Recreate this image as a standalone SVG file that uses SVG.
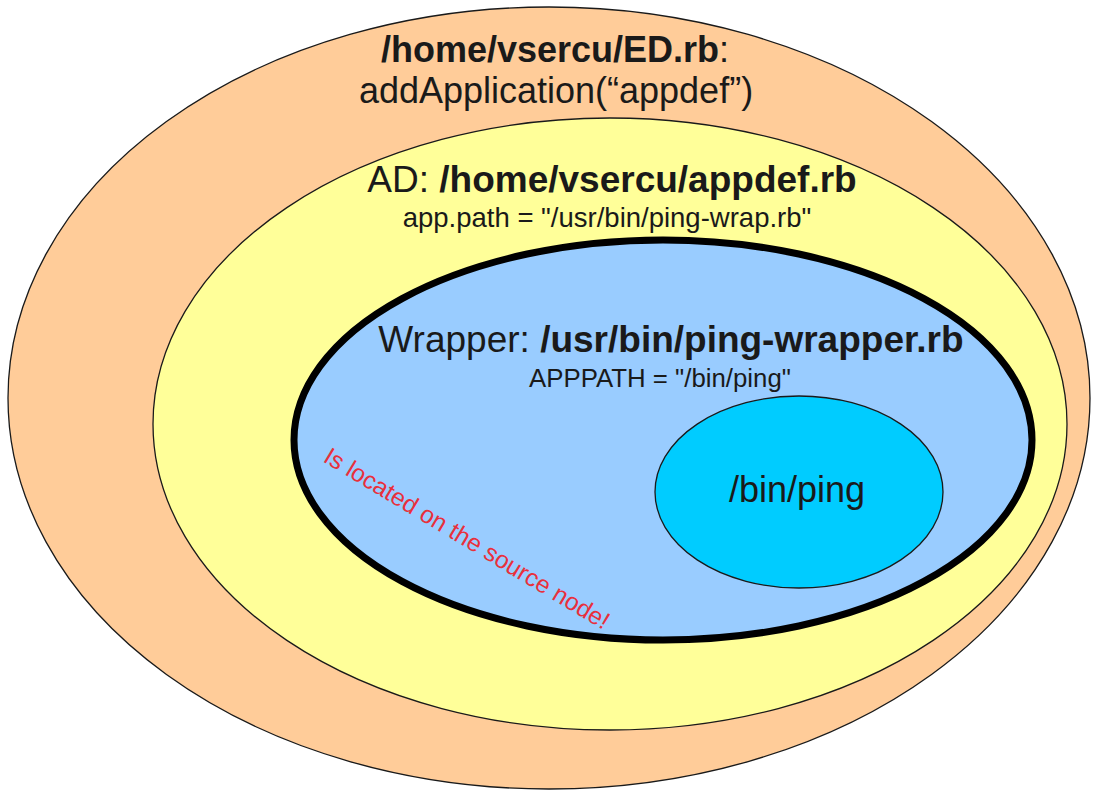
<svg xmlns="http://www.w3.org/2000/svg" width="1093" height="791" viewBox="0 0 1093 791">
  <style>
    .lbl { font-family: "Liberation Sans", Arial, sans-serif; fill: #1a1a1a; }
    .b { font-weight: bold; }
    .note { font-family: "Liberation Sans", Arial, sans-serif; fill: #e8303c; }
    .thin { stroke: #1a1a1a; stroke-width: 1.3; }
  </style>
  <rect width="1093" height="791" fill="#ffffff"/>

  <!-- Experiment description -->
  <g id="ed">
    <ellipse class="thin" cx="549" cy="398" rx="541" ry="391" fill="#ffcc99"/>
    <text class="lbl" x="555" y="62" font-size="36" text-anchor="middle"><tspan class="b">/home/vsercu/ED.rb</tspan>:</text>
    <text class="lbl" x="556" y="103" font-size="36" text-anchor="middle">addApplication(“appdef”)</text>
  </g>

  <!-- Application definition -->
  <g id="appdef">
    <ellipse class="thin" cx="610" cy="424" rx="457" ry="306" fill="#ffff99"/>
    <text class="lbl" x="612" y="192" font-size="37" text-anchor="middle">AD: <tspan class="b">/home/vsercu/appdef.rb</tspan></text>
    <text class="lbl" x="607" y="227" font-size="27.5" text-anchor="middle">app.path = "/usr/bin/ping-wrap.rb"</text>
  </g>

  <!-- Wrapper script -->
  <g id="wrapper">
    <ellipse cx="663" cy="440" rx="369" ry="200" fill="#99ccff" stroke="#000000" stroke-width="7"/>
    <text class="lbl" x="671" y="352" font-size="37" text-anchor="middle">Wrapper: <tspan class="b">/usr/bin/ping-wrapper.rb</tspan></text>
    <text class="lbl" x="660" y="387" font-size="25.8" text-anchor="middle">APPPATH = "/bin/ping"</text>
    <text class="note" font-size="24.5" transform="translate(322,461) rotate(31)">Is located on the source node!</text>
  </g>

  <!-- Wrapped binary -->
  <g id="ping">
    <ellipse class="thin" cx="799" cy="492" rx="144" ry="96" fill="#00ccff"/>
    <text class="lbl" x="797" y="502" font-size="36" text-anchor="middle">/bin/ping</text>
  </g>

  <g id="connectors"/>
</svg>
